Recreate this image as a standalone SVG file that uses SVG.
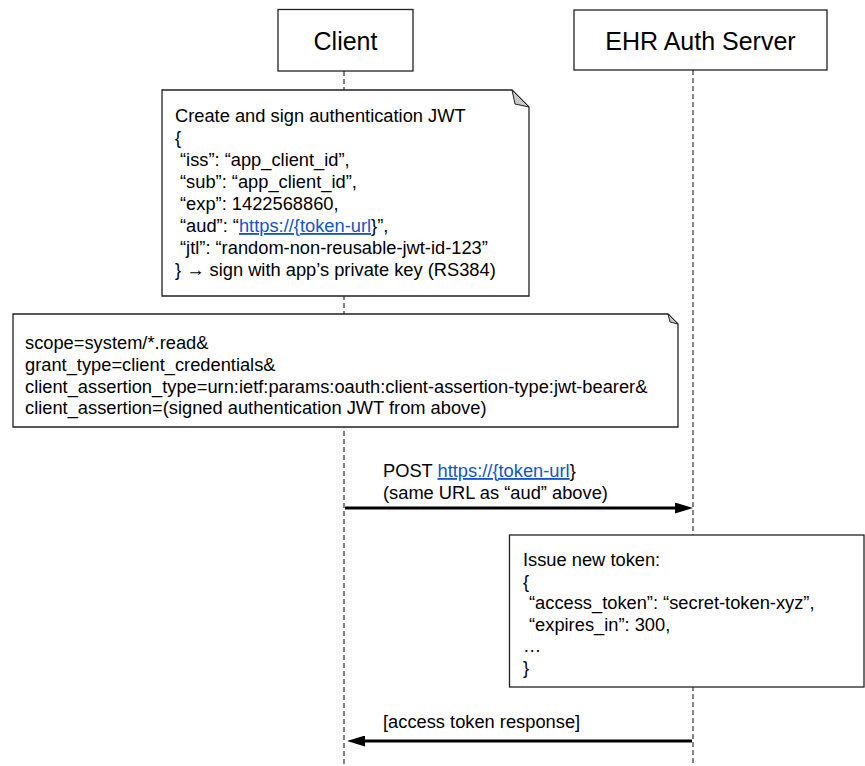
<svg xmlns="http://www.w3.org/2000/svg" width="865" height="766" viewBox="0 0 865 766">
<style>
  text { font-family: "Liberation Sans", Arial, sans-serif; fill: #000; }
  .hdr { font-size: 25px; text-anchor: middle; }
  .t { font-size: 18.3px; }
  .box { fill: #fff; stroke: #222; stroke-width: 1.3; }
  .life { stroke: #333; stroke-width: 1.2; stroke-dasharray: 5 3; fill: none; }
  .fold { fill: #c8c8c8; stroke: #222; stroke-width: 1; stroke-linejoin: round; }
  .msg { stroke: #000; stroke-width: 3; fill: none; }
  .link { fill: #1155cc; text-decoration: underline; }
</style>
<defs>
  <marker id="ah" markerUnits="userSpaceOnUse" markerWidth="18" markerHeight="11" refX="2" refY="5.5" orient="auto">
    <path d="M0,0 L18,5.5 L0,11 Z" fill="#000"/>
  </marker>
</defs>

<g id="lifelines">
  <line class="life" x1="344" y1="71" x2="344" y2="766"/>
  <line class="life" x1="693" y1="70" x2="693" y2="766"/>
</g>

<g id="client">
  <rect class="box" x="278" y="9.5" width="135" height="61.5"/>
  <text class="hdr" x="345.5" y="50">Client</text>
</g>

<g id="server">
  <rect class="box" x="574" y="10" width="253" height="60"/>
  <text class="hdr" x="700.5" y="50">EHR Auth Server</text>
</g>

<g id="note-jwt">
  <path class="box" d="M162,90 H512 L529,107 V296 H162 Z"/>
  <path class="fold" d="M512,90 L515,104 L529,107 Z"/>
  <text class="t" x="175" y="122">Create and sign authentication JWT</text>
  <text class="t" x="175" y="144">{</text>
  <text class="t" x="180" y="166">“iss”: “app_client_id”,</text>
  <text class="t" x="180" y="188">“sub”: “app_client_id”,</text>
  <text class="t" x="180" y="210">“exp”: 1422568860,</text>
  <text class="t" x="180" y="232">“aud”: “<tspan class="link">https://{token-url</tspan>}”,</text>
  <text class="t" x="180" y="254">“jtl”: “random-non-reusable-jwt-id-123”</text>
  <text class="t" x="175" y="276">} → sign with app’s private key (RS384)</text>
</g>

<g id="note-request">
  <path class="box" d="M13,314 H668 L678,324 V427 H13 Z"/>
  <path class="fold" d="M668,314 L670,322 L678,324 Z"/>
  <text class="t" x="25" y="349">scope=system/*.read&amp;</text>
  <text class="t" x="25" y="371">grant_type=client_credentials&amp;</text>
  <text class="t" x="25" y="392.5">client_assertion_type=urn:ietf:params:oauth:client-assertion-type:jwt-bearer&amp;</text>
  <text class="t" x="25" y="414">client_assertion=(signed authentication JWT from above)</text>
</g>

<g id="note-token">
  <rect class="box" x="509.5" y="535" width="354.5" height="152"/>
  <text class="t" x="523" y="566">Issue new token:</text>
  <text class="t" x="523" y="587.5">{</text>
  <text class="t" x="529" y="609">“access_token”: “secret-token-xyz”,</text>
  <text class="t" x="529" y="630.5">“expires_in”: 300,</text>
  <text class="t" x="523" y="652">…</text>
  <text class="t" x="523" y="673.5">}</text>
</g>

<g id="connectors">
  <g id="msg-post">
    <line class="msg" x1="345" y1="508" x2="677" y2="508" marker-end="url(#ah)"/>
    <text class="t" x="383" y="477">POST <tspan class="link">https://{token-url</tspan>}</text>
    <text class="t" x="383" y="498.5">(same URL as “aud” above)</text>
  </g>
  <g id="msg-response">
    <line class="msg" x1="692" y1="741" x2="363" y2="741" marker-end="url(#ah)"/>
    <text class="t" x="383" y="728">[access token response]</text>
  </g>
</g>
</svg>
